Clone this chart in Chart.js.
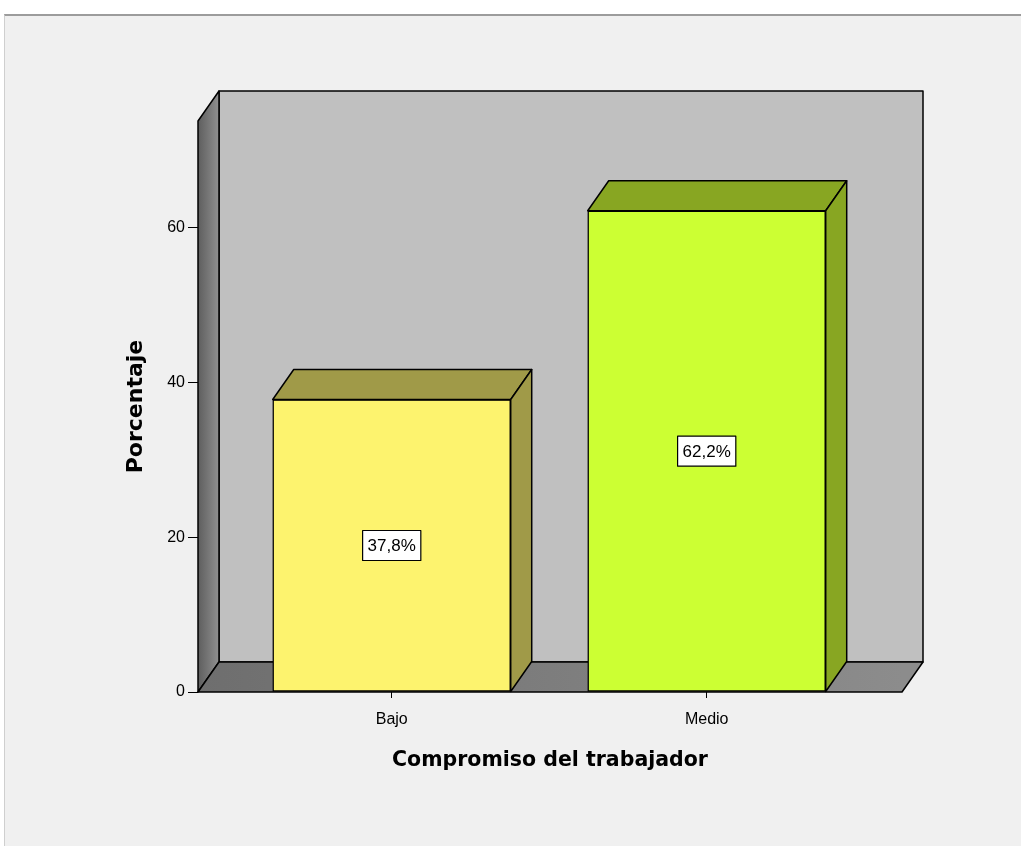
<!DOCTYPE html>
<html>
<head>
<meta charset="utf-8">
<script src="https://cdn.jsdelivr.net/npm/chart.js@4.4.1/dist/chart.umd.min.js"></script>
<style>
body { margin: 0; background: #fff; }
#frame { position: absolute; left: 4px; top: 14px; width: 1017px; height: 832px; box-sizing: border-box;
         background: #f0f0f0; border-top: 2px solid #9c9c9c; border-left: 1px solid #cfcfcf; }
#chart { position: absolute; left: 0; top: 0; }
</style>
</head>
<body>
<div id="frame"></div>
<canvas id="chart" width="1021" height="846"></canvas>
<script>
// datos
const categorias = ['Bajo', 'Medio'];
const porcentajes = [37.8, 62.2];
const etiquetas = ['37,8%', '62,2%'];
const yTicks = [0, 20, 40, 60];
const yMax = 73.8;

const frontColors = ['#fdf36e', '#ccff33'];
const shadeColors = ['#a09a48', '#88a622'];

// 3D depth of the walls and bars
const DX = 21, DY = -30;

function poly(ctx, pts, fill) {
  ctx.beginPath();
  ctx.moveTo(pts[0][0], pts[0][1]);
  for (let i = 1; i < pts.length; i++) ctx.lineTo(pts[i][0], pts[i][1]);
  ctx.closePath();
  ctx.fillStyle = fill;
  ctx.fill();
  ctx.stroke();
}

const frame3d = {
  id: 'frame3d',
  beforeDatasetsDraw(chart) {
    const ctx = chart.ctx, a = chart.chartArea;
    ctx.save();
    ctx.lineWidth = 1.5;
    ctx.strokeStyle = '#000';
    ctx.lineJoin = 'round';
    // back wall
    poly(ctx, [[a.left + DX, a.top + DY], [a.right + DX, a.top + DY], [a.right + DX, a.bottom + DY], [a.left + DX, a.bottom + DY]], '#c0c0c0');
    // left wall
    const g = ctx.createLinearGradient(a.left, 0, a.left + DX, 0);
    g.addColorStop(0, '#5e5e5e');
    g.addColorStop(1, '#909090');
    poly(ctx, [[a.left, a.top], [a.left + DX, a.top + DY], [a.left + DX, a.bottom + DY], [a.left, a.bottom]], g);
    // floor
    const f = ctx.createLinearGradient(a.left, 0, a.right, 0);
    f.addColorStop(0, '#6e6e6e');
    f.addColorStop(1, '#8c8c8c');
    poly(ctx, [[a.left, a.bottom], [a.left + DX, a.bottom + DY], [a.right + DX, a.bottom + DY], [a.right, a.bottom]], f);
    ctx.restore();
  },
  afterDatasetsDraw(chart) {
    const ctx = chart.ctx;
    const meta = chart.getDatasetMeta(0);
    ctx.save();
    ctx.lineWidth = 1.5;
    ctx.strokeStyle = '#000';
    ctx.lineJoin = 'round';
    meta.data.forEach((bar, i) => {
      const p = bar.getProps(['x', 'y', 'base', 'width'], true);
      const l = p.x - p.width / 2, r = p.x + p.width / 2;
      // top face
      poly(ctx, [[l, p.y], [l + DX, p.y + DY], [r + DX, p.y + DY], [r, p.y]], shadeColors[i]);
      // side face
      poly(ctx, [[r, p.y], [r + DX, p.y + DY], [r + DX, p.base + DY], [r, p.base]], shadeColors[i]);
      // value label
      ctx.font = '17px "Liberation Sans", Arial, sans-serif';
      const t = etiquetas[i];
      const w = ctx.measureText(t).width + 10, h = 30;
      const cy = (p.y + p.base) / 2;
      ctx.fillStyle = '#fff';
      ctx.lineWidth = 1.2;
      ctx.fillRect(p.x - w / 2, cy - h / 2, w, h);
      ctx.strokeRect(p.x - w / 2, cy - h / 2, w, h);
      ctx.fillStyle = '#000';
      ctx.textAlign = 'center';
      ctx.textBaseline = 'middle';
      ctx.fillText(t, p.x, cy + 1);
      ctx.lineWidth = 1.5;
    });
    ctx.restore();
  }
};

new Chart(document.getElementById('chart'), {
  type: 'bar',
  data: {
    datasets: [{
      data: porcentajes.map((v, i) => ({ x: i, y: v })),
      backgroundColor: frontColors,
      borderColor: '#000',
      borderWidth: 1.5,
      borderSkipped: false,
      barThickness: 238
    }]
  },
  options: {
    responsive: false,
    animation: false,
    layout: { padding: { left: 100, right: 119, top: 121, bottom: 54 } },
    plugins: { legend: { display: false }, tooltip: { enabled: false } },
    scales: {
      x: {
        type: 'linear',
        min: -0.615,
        max: 1.62,
        offset: false,
        afterBuildTicks: s => { s.ticks = categorias.map((c, i) => ({ value: i })); },
        afterFit: s => { s.height = 100; },
        grid: { offset: false, drawOnChartArea: false, tickLength: 6, color: '#000' },
        border: { display: false },
        ticks: {
          padding: 12,
          color: '#000',
          font: { family: '"Liberation Sans", Arial, sans-serif', size: 16 },
          callback: v => categorias[v]
        },
        title: {
          display: true,
          text: 'Compromiso del trabajador',
          color: '#000',
          font: { family: '"DejaVu Sans", sans-serif', size: 20.5, weight: 'bold' },
          padding: { top: 0, bottom: 19 }
        }
      },
      y: {
        min: 0,
        max: yMax,
        afterBuildTicks: s => { s.ticks = yTicks.map(v => ({ value: v })); },
        afterFit: s => { s.width = 98; },
        grid: { drawOnChartArea: false, tickLength: 10, color: '#000' },
        border: { display: false },
        ticks: {
          padding: 3,
          color: '#000',
          font: { family: '"Liberation Sans", Arial, sans-serif', size: 16 }
        },
        title: {
          display: true,
          text: 'Porcentaje',
          color: '#000',
          font: { family: '"DejaVu Sans", sans-serif', size: 22, weight: 'bold' },
          padding: { top: 23, bottom: 0 }
        }
      }
    }
  },
  plugins: [frame3d]
});
</script>
</body>
</html>
